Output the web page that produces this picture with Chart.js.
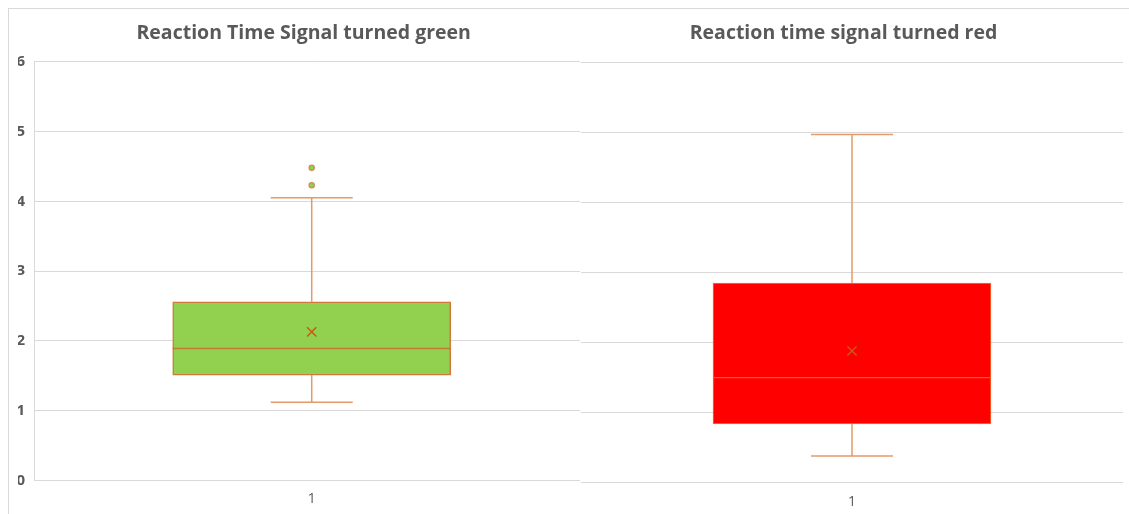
<!DOCTYPE html>
<html>
<head>
<meta charset="utf-8">
<script src="https://cdn.jsdelivr.net/npm/chart.js@4.4.1/dist/chart.umd.min.js"></script>
<style>
    html, body { margin: 0; padding: 0; background: #fff; }
    body { position: relative; width: 1129px; height: 514px; overflow: hidden; }
    .panel { position: absolute; }
    #leftFrame { left: 8px; top: 8px; width: 640px; height: 530px; border-left: 1px solid #d9d9d9; border-top: 1px solid #d9d9d9; }
    #rightFrame { left: 580px; top: 8px; width: 600px; height: 530px; border-top: 1px solid #d9d9d9; background: #fff; }
    #greenWrap { left: 0; top: 0; }
    #redWrap { left: 564px; top: 0; }
    canvas { display: block; }
</style>
</head>
<body>
<div class="panel" id="leftFrame"></div>
<div class="panel" id="greenWrap"><canvas id="greenChart" width="620" height="514" style="width:620px;height:514px"></canvas></div>
<div class="panel" id="rightFrame"></div>
<div class="panel" id="redWrap"><canvas id="redChart" width="580" height="514" style="width:580px;height:514px"></canvas></div>
<script>
// data
const categories = ['1'];
const yMin = 0;
const yMax = 6;
const yStep = 1;

// min, q1, median, q3, max
const greenBox = [1.12, 1.51, 1.89, 2.56, 4.05];
const greenMean = [2.13];
const greenOutliers = [4.23, 4.48];

const redBox = [0.38, 0.84, 1.50, 2.85, 4.97];
const redMean = [1.88];
const redOutliers = [];

const textGrey = '#595959';
const gridGrey = '#d9d9d9';

// whiskers, caps and median drawn through the chart scales
const boxWhiskers = {
    id: 'boxWhiskers',
    beforeDatasetsDraw(chart, args, opts) {
        const { ctx, scales } = chart;
        const x = scales.x.getPixelForValue(0);
        const yOf = v => scales.y.getPixelForValue(v);
        const s = opts.stats;
        ctx.save();
        ctx.strokeStyle = opts.whiskerColor;
        ctx.lineWidth = opts.whiskerWidth;
        ctx.beginPath();
        ctx.moveTo(x, yOf(s[0]));
        ctx.lineTo(x, yOf(s[1]));
        ctx.moveTo(x, yOf(s[3]));
        ctx.lineTo(x, yOf(s[4]));
        ctx.moveTo(x - opts.capHalf, yOf(s[0]));
        ctx.lineTo(x + opts.capHalf, yOf(s[0]));
        ctx.moveTo(x - opts.capHalf, yOf(s[4]));
        ctx.lineTo(x + opts.capHalf, yOf(s[4]));
        ctx.stroke();
        ctx.restore();
    },
    afterDatasetDraw(chart, args, opts) {
        if (args.meta.type !== 'bar') return;
        const { ctx, scales } = chart;
        const bar = args.meta.data[0];
        const y = scales.y.getPixelForValue(opts.stats[2]);
        ctx.save();
        ctx.strokeStyle = opts.medianColor;
        ctx.lineWidth = opts.medianWidth;
        ctx.beginPath();
        ctx.moveTo(bar.x - bar.width / 2, y);
        ctx.lineTo(bar.x + bar.width / 2, y);
        ctx.stroke();
        ctx.restore();
    }
};

function makeBoxChart(canvasId, cfg) {
    const ctx = document.getElementById(canvasId);
    return new Chart(ctx, {
        type: 'bar',
        data: {
            labels: categories,
            datasets: [
                {
                    type: 'bar',
                    data: [[cfg.stats[1], cfg.stats[3]]],
                    backgroundColor: cfg.fill,
                    borderColor: cfg.boxBorder,
                    borderWidth: cfg.boxBorderWidth,
                    borderSkipped: false,
                    barThickness: 278,
                    order: 3
                },
                {
                    type: 'line',
                    data: cfg.mean,
                    showLine: false,
                    pointStyle: 'crossRot',
                    pointRadius: 6.5,
                    pointBorderColor: cfg.meanColor,
                    pointBorderWidth: 1.4,
                    order: 1
                },
                {
                    type: 'line',
                    data: cfg.outliers.map(v => ({ x: categories[0], y: v })),
                    showLine: false,
                    pointStyle: 'circle',
                    pointRadius: 2.6,
                    pointBackgroundColor: '#92D050',
                    pointBorderColor: '#D68A52',
                    pointBorderWidth: 1.3,
                    order: 2
                }
            ]
        },
        options: {
            responsive: false,
            animation: false,
            layout: { padding: cfg.padding },
            scales: {
                x: {
                    afterFit: axis => { axis.height = cfg.xAxisHeight; },
                    grid: { display: false, drawTicks: false },
                    border: { display: false },
                    ticks: {
                        color: textGrey,
                        padding: cfg.xPad,
                        font: { family: 'Open Sans', size: 14 }
                    }
                },
                y: {
                    min: yMin,
                    max: yMax,
                    afterFit: axis => { axis.width = cfg.yAxisWidth; },
                    grid: { color: gridGrey, lineWidth: 1, drawTicks: false },
                    border: { display: cfg.showYLabels, color: gridGrey, width: 1 },
                    ticks: {
                        display: cfg.showYLabels,
                        stepSize: yStep,
                        color: textGrey,
                        padding: 9,
                        font: { family: 'Open Sans', size: 15, weight: 'bold' }
                    }
                }
            },
            plugins: {
                legend: { display: false },
                tooltip: { enabled: false },
                title: {
                    display: true,
                    text: cfg.title,
                    color: textGrey,
                    font: { family: 'Open Sans', size: 19.5, weight: 'bold' },
                    padding: cfg.titlePad
                },
                boxWhiskers: {
                    stats: cfg.stats,
                    whiskerColor: '#E39A68',
                    whiskerWidth: 1.5,
                    capHalf: 41,
                    medianColor: cfg.medianColor,
                    medianWidth: cfg.medianWidth
                }
            }
        },
        plugins: [boxWhiskers]
    });
}

makeBoxChart('greenChart', {
    title: 'Reaction Time Signal turned green',
    stats: greenBox,
    mean: greenMean,
    outliers: greenOutliers,
    fill: '#92D050',
    boxBorder: '#CF7A3A',
    boxBorderWidth: 1.5,
    meanColor: '#C55A11',
    medianColor: '#C47A36',
    medianWidth: 1.5,
    showYLabels: true,
    yAxisWidth: 16,
    xAxisHeight: 33.5,
    xPad: 10.5,
    titlePad: { top: 21.5, bottom: 16.8 },
    padding: { left: 18, right: 30.6, top: 0, bottom: 0 }
});

makeBoxChart('redChart', {
    title: 'Reaction time signal turned red',
    stats: redBox,
    mean: redMean,
    outliers: redOutliers,
    fill: '#FF0000',
    boxBorder: '#ED7D31',
    boxBorderWidth: 1,
    meanColor: '#CC5A1E',
    medianColor: '#E8601F',
    medianWidth: 1.2,
    showYLabels: false,
    yAxisWidth: 17,
    xAxisHeight: 31.3,
    xPad: 11.3,
    titlePad: { top: 21.5, bottom: 17.4 },
    padding: { left: 0, right: 21, top: 0, bottom: 0 }
});
</script>
</body>
</html>
